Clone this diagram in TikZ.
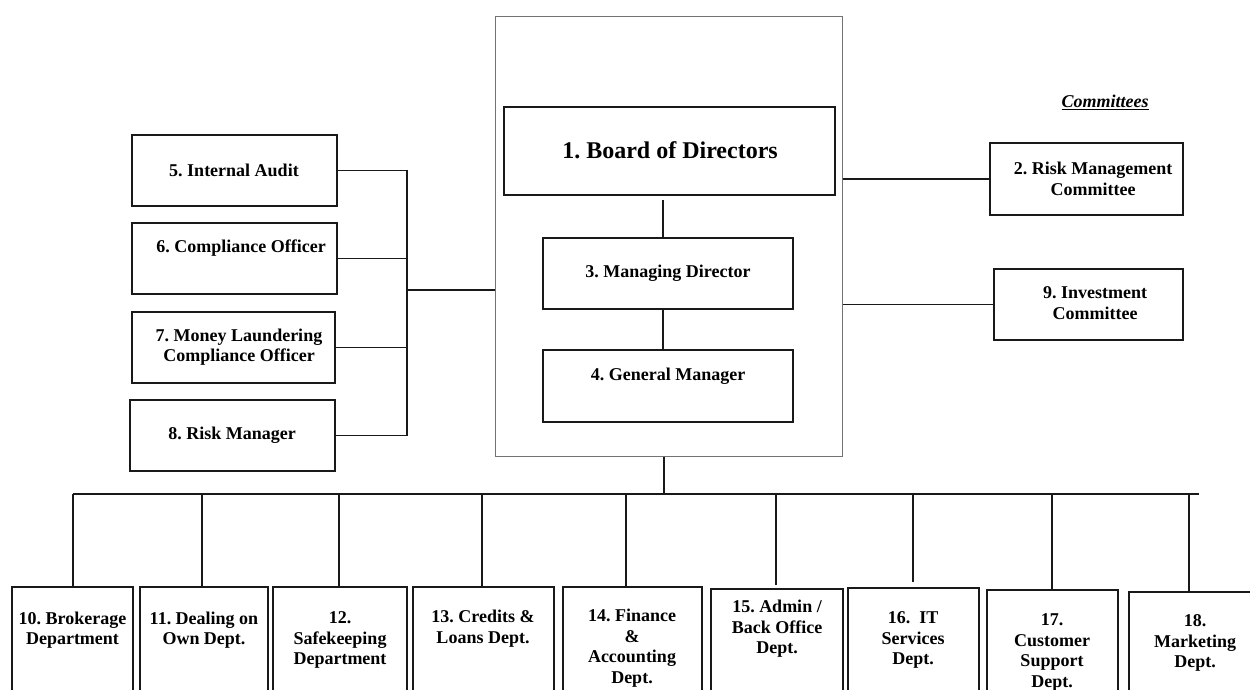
\documentclass[tikz,border=0pt]{standalone}
\usepackage{fontspec}
\setmainfont{Liberation Serif}
\frenchspacing
\begin{document}
\begin{tikzpicture}[x=1pt,y=-1pt,
  box/.style={draw=black!90,line width=1.8pt,inner sep=0pt,fill=white},
  outerbox/.style={draw=black!55,line width=1pt,inner sep=0pt},
  conn/.style={draw=black!90,line width=1.8pt},
  lbl/.style={font=\bfseries\fontsize{18}{20.5}\selectfont,align=center,inner sep=0pt},
  biglbl/.style={font=\bfseries\fontsize{24}{28}\selectfont,align=center,inner sep=0pt}]
\clip (0,0) rectangle (1250,689);
\fill[white] (0,0) rectangle (1250,689);

% central frame
\node[outerbox,minimum width=347pt,minimum height=440pt] (outer) at (668.5,236) {};
\node[box,minimum width=331pt,minimum height=88pt] (b1) at (669.5,151) {};
\node[box,minimum width=250pt,minimum height=71pt] (b3) at (668,273.5) {};
\node[box,minimum width=250pt,minimum height=72pt] (b4) at (668,386) {};
\node[biglbl] (t1) at (670,150) {1. Board of Directors};
\node[lbl] (t3) at (668,273) {3. Managing Director};
\node[lbl] (t4) at (668,376) {4. General Manager};

% left boxes
\node[box,minimum width=205pt,minimum height=71pt] (b5) at (234.5,170.5) {};
\node[box,minimum width=205pt,minimum height=71pt] (b6) at (234.5,258.5) {};
\node[box,minimum width=203pt,minimum height=71pt] (b7) at (233.5,347.5) {};
\node[box,minimum width=205pt,minimum height=71pt] (b8) at (232.5,435.5) {};
\node[lbl] (t5) at (234,170) {5. Internal Audit};
\node[lbl] (t6) at (241,248) {6. Compliance Officer};
\node[lbl] (t7) at (239,347) {7. Money Laundering\\Compliance Officer};
\node[lbl] (t8) at (232,435) {8. Risk Manager};

% right committees
\node[lbl,font=\bfseries\itshape\fontsize{18}{20.5}\selectfont] (tc) at (1105,102) {\underline{Committees}};
\node[box,minimum width=193pt,minimum height=72pt] (b2) at (1086.5,179) {};
\node[box,minimum width=189pt,minimum height=71pt] (b9) at (1088.5,304.5) {};
\node[lbl] (t2) at (1093,179) {2. Risk Management\\Committee};
\node[lbl] (t9) at (1095,303) {9. Investment\\Committee};

% bottom departments
\node[box,minimum width=121pt,minimum height=113pt] (b10) at (72.5,643.5) {};
\node[box,minimum width=128pt,minimum height=113pt] (b11) at (204,643.5) {};
\node[box,minimum width=134pt,minimum height=113pt] (b12) at (340,643.5) {};
\node[box,minimum width=141pt,minimum height=113pt] (b13) at (483.5,643.5) {};
\node[box,minimum width=139pt,minimum height=113pt] (b14) at (632.5,643.5) {};
\node[box,minimum width=132pt,minimum height=111pt] (b15) at (777,644.5) {};
\node[box,minimum width=131pt,minimum height=112pt] (b16) at (913.5,644) {};
\node[box,minimum width=131pt,minimum height=110pt] (b17) at (1052.5,645) {};
\node[box,minimum width=141pt,minimum height=108pt] (b18) at (1199.5,646) {};
\node[lbl] (t10) at (72.5,630) {10. Brokerage\\Department};
\node[lbl] (t11) at (204,630) {11. Dealing on\\Own Dept.};
\node[lbl] (t12) at (340,640) {12.\\Safekeeping\\Department};
\node[lbl] (t13) at (483,628.5) {13. Credits \&\\Loans Dept.};
\node[lbl] (t14) at (632,648) {14. Finance\\\&\\Accounting\\Dept.};
\node[lbl] (t15) at (777,629) {15. Admin /\\Back Office\\Dept.};
\node[lbl] (t16) at (913,640) {16.\ \ IT\\Services\\Dept.};
\node[lbl] (t17) at (1052,652.5) {17.\\Customer\\Support\\Dept.};
\node[lbl] (t18) at (1195,643) {18.\\Marketing\\Dept.};

% connectors: central chain
\draw[conn] ([xshift=-6.5pt,yshift=-4pt]b1.south) -- ([xshift=-5pt]b3.north);
\draw[conn] ([xshift=-5pt]b3.south) -- ([xshift=-5pt]b4.north);

% left connectors
\coordinate (sp) at (407,290);
\draw[conn] (b5.east) -- (b5.east -| sp) |- (b8.east);
\draw[conn] (b6.east) -- (b6.east -| sp);
\draw[conn] (b7.east) -- (b7.east -| sp);
\draw[conn] (sp) -- (sp -| outer.west);

% right connectors
\draw[conn] (outer.east |- b2.west) -- (b2.west);
\draw[conn] (outer.east |- b9.west) -- (b9.west);

% bottom bus
\coordinate (busL) at (73,494);
\coordinate (busR) at (1199,494);
\draw[conn] (busL) -- (busR);
\draw[conn] ([xshift=-4.5pt]outer.south) -- ([xshift=-4.5pt]outer.south |- busL);
\draw[conn] ([xshift=0.5pt]b10.north) -- ([xshift=0.5pt]b10.north |- busL);
\draw[conn] ([xshift=-2pt]b11.north) -- ([xshift=-2pt]b11.north |- busL);
\draw[conn] ([xshift=-1pt]b12.north) -- ([xshift=-1pt]b12.north |- busL);
\draw[conn] ([xshift=-1.5pt]b13.north) -- ([xshift=-1.5pt]b13.north |- busL);
\draw[conn] ([xshift=-6.5pt]b14.north) -- ([xshift=-6.5pt]b14.north |- busL);
\draw[conn] ([xshift=-1pt,yshift=3pt]b15.north) -- ([xshift=-1pt]b15.north |- busL);
\draw[conn] ([xshift=-0.5pt,yshift=5pt]b16.north) -- ([xshift=-0.5pt]b16.north |- busL);
\draw[conn] ([xshift=-0.5pt]b17.north) -- ([xshift=-0.5pt]b17.north |- busL);
\draw[conn] ([xshift=-10.5pt]b18.north) -- ([xshift=-10.5pt]b18.north |- busL);
\end{tikzpicture}
\end{document}
